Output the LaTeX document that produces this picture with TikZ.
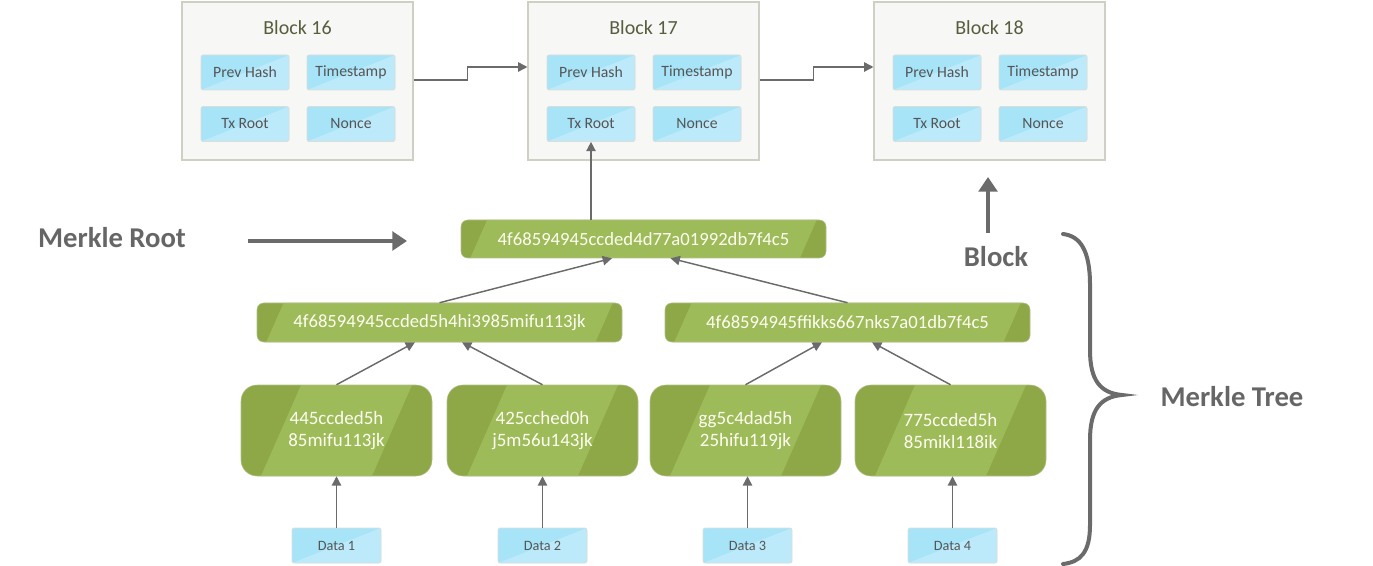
\documentclass[tikz,border=0pt]{standalone}
\usepackage{fontspec}
\setmainfont{Carlito}
\usetikzlibrary{calc,arrows.meta}
\definecolor{gdark}{HTML}{8FA847}
\definecolor{glight}{HTML}{9DBB58}
\definecolor{gedge}{HTML}{7E9440}
\definecolor{lblue}{HTML}{A8E4F8}
\definecolor{lblue2}{HTML}{BCEAFA}
\definecolor{bfill}{HTML}{F7F7F5}
\definecolor{bedge}{HTML}{CFCFC4}
\definecolor{arr}{HTML}{6B6B6B}
\definecolor{ttl}{HTML}{585D3E}
\definecolor{lbl}{HTML}{555555}
\definecolor{big}{HTML}{666666}
\tikzset{
  blockbox/.style={draw=bedge, line width=0.8pt, fill=bfill, minimum width=231*0.75pt, minimum height=158*0.75pt, inner sep=0pt},
  fieldfont/.initial={\fontsize{11.8}{13}\selectfont},
  fieldbox/.style={draw=bedge!70, line width=0.5pt, fill=lblue, minimum width=88*0.75pt, minimum height=35*0.75pt, inner sep=0pt, rounded corners=1.5pt,
    text=lbl,
    path picture={\fill[lblue2, sharp corners] (path picture bounding box.south west) -- (path picture bounding box.north east) |- cycle;
      \node[text=lbl, font=\pgfkeysvalueof{/tikz/fieldfont}] at (path picture bounding box.center) {\pgfkeysvalueof{/tikz/fieldtext}};}},
  fieldtext/.initial={},
  hashbox/.style={fill=gdark, draw=gedge!60, line width=0.4pt, rounded corners=#1, inner sep=0pt, text=white!95!yellow,
    path picture={
      \path (path picture bounding box.south west) coordinate (psw) (path picture bounding box.north east) coordinate (pne);
      \fill[glight, sharp corners] let \p1=(psw), \p2=(pne), \n1={0.44*(\y2-\y1)}, \n2={\pgfkeysvalueof{/tikz/bandgap}} in
        (\x1+\n2,\y1) -- (\x1+\n2+\n1,\y2) -- (\x2-\n2,\y2) -- (\x2-\n2-\n1,\y1) -- cycle;}},
  bandgap/.initial=8pt,
  conn/.style={draw=arr, line width=1.1pt, -{Triangle[length=7pt,width=7pt]}},
  thick arrow/.style={draw=arr, line width=3.6pt, -{Triangle[length=11pt,width=14pt]}},
  biglabel/.style={font=\bfseries\fontsize{21.5}{24}\selectfont, text=big},
  title/.style={font=\fontsize{15}{17}\selectfont, text=ttl}
}
\begin{document}
\begin{tikzpicture}[x=0.75pt,y=-0.75pt]
\useasboundingbox (0,0) rectangle (1373,566);

% Blocks
\foreach \n/\cx in {16/297.5,17/643.5,18/989.5}{
  \node[blockbox] (B\n) at (\cx,81) {};
  \node[title] (T\n) at (\cx,28) {Block \n};
  \node[fieldbox, fieldtext={Prev Hash}] (P\n) at (\cx-52.5,72.5) {};
  \node[fieldbox, fieldtext={Timestamp}] (S\n) at (\cx+53.5,72.5) {};
  \node[fieldbox, fieldtext={Tx Root}] (X\n) at (\cx-52.5,124) {};
  \node[fieldbox, fieldtext={Nonce}] (N\n) at (\cx+53.5,124) {};
}

% block links
\draw[conn] ($(B16.east)+(0,-1)$) -- ++(54,0) |- ($(B17.west)+(0,-14)$);
\draw[conn] ($(B17.east)+(0,-1)$) -- ++(54,0) |- ($(B18.west)+(0,-14)$);

% Merkle tree
\tikzset{midstyle/.style={hashbox=5pt, bandgap=7pt, minimum width=365*0.75pt, minimum height=39*0.75pt, font=\fontsize{14}{16}\selectfont}}
\node[midstyle, minimum height=38*0.75pt] (root) at (643.5,239) {4f68594945ccded4d77a01992db7f4c5};
\node[midstyle] (L2a) at (439.5,322.5) {4f68594945ccded5h4hi3985mifu113jk};
\node[midstyle] (L2b) at (847.5,322.5) {4f68594945ffikks667nks7a01db7f4c5};

\tikzset{leafstyle/.style={hashbox=12pt, bandgap=15pt, minimum width=191*0.75pt, minimum height=91*0.75pt, align=center, font=\fontsize{14.2}{16.5}\selectfont}}
\node[leafstyle] (H1) at (336.5,430.5) {445ccded5h\\85mifu113jk};
\node[leafstyle] (H2) at (542.5,430.5) {425cched0h\\j5m56u143jk};
\node[leafstyle] (H3) at (745.5,430.5) {gg5c4dad5h\\25hifu119jk};
\node[leafstyle] (H4) at (950.5,430.5) {775ccded5h\\85mikl118ik};

\tikzset{datastyle/.style={fieldbox, minimum width=89*0.75pt, fieldfont={\fontsize{10.7}{12}\selectfont}}}
\node[datastyle, fieldtext={Data 1}] (D1) at (336.5,545.5) {};
\node[datastyle, fieldtext={Data 2}] (D2) at (542.5,545.5) {};
\node[datastyle, fieldtext={Data 3}] (D3) at (747.5,545.5) {};
\node[datastyle, fieldtext={Data 4}] (D4) at (952.5,545.5) {};

% arrows
\draw[conn] (root.north -| X17.south) -- (X17.south);
\draw[conn] (L2a.north) -- ($(root.south)+(-31.5,0)$);
\draw[conn] (L2b.north) -- ($(root.south)+(27,0)$);
\draw[conn] (H1.north) -- ($(L2a.south)+(-24.5,0)$);
\draw[conn] (H2.north) -- ($(L2a.south)+(22.5,0)$);
\draw[conn] (H3.north) -- ($(L2b.south)+(-25.5,0)$);
\draw[conn] (H4.north) -- ($(L2b.south)+(24.5,0)$);
\foreach \i in {1,2,3,4}{
  \draw[conn] (D\i.north) -- (D\i.north |- H\i.south);
}

% labels
\node[biglabel] (mr) at (112,238) {Merkle Root};
\coordinate (mra) at (248,241);
\coordinate (mrb) at (407,241);
\draw[thick arrow] (mra) -- (mrb);

\node[biglabel] (blk) at (996,257) {Block};
\coordinate (bla) at (988,233);
\coordinate (blb) at (988,177);
\draw[thick arrow] (bla) -- (blb);

\draw[draw=arr, line width=3pt, line cap=round]
  (1063,234) .. controls (1080,236) and (1090,250) .. (1090,285)
  -- (1090,350) .. controls (1090,380) and (1100,393) .. (1122,395)
  .. controls (1100,397) and (1090,410) .. (1090,440)
  -- (1090,525) .. controls (1090,553) and (1080,562) .. (1063,564);
\node[biglabel] (mt) at (1232,397) {Merkle Tree};
\end{tikzpicture}
\end{document}
